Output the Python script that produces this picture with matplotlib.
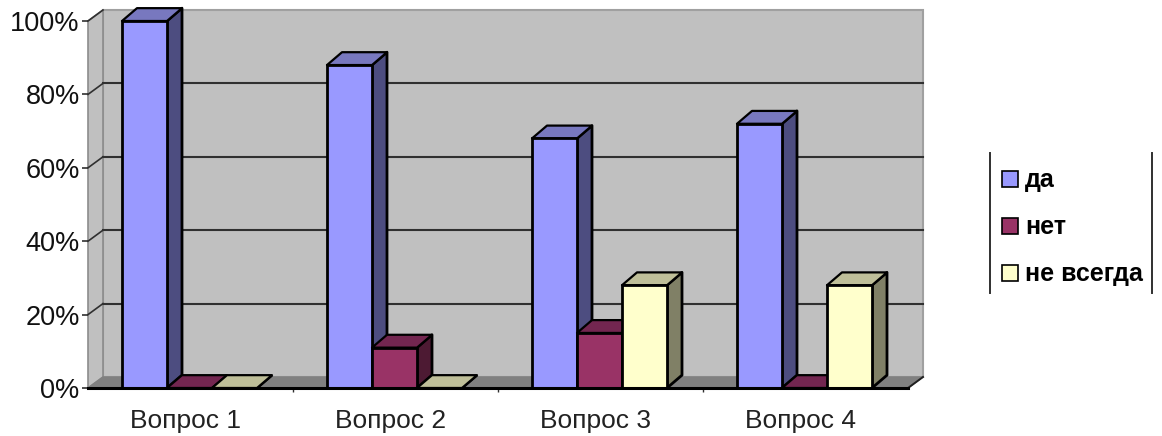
import matplotlib
matplotlib.use("Agg")
import matplotlib.pyplot as plt
from matplotlib.patches import Polygon, Rectangle

plt.rcParams['font.family'] = ['Liberation Sans', 'DejaVu Sans']

categories = ["Вопрос 1", "Вопрос 2", "Вопрос 3", "Вопрос 4"]
series_names = ["да", "нет", "не всегда"]
da = [100, 88, 68, 72]
net = [0, 11, 15, 0]
ne_vsegda = [0, 0, 28, 28]
y_ticks = [0, 20, 40, 60, 80, 100]
y_labels = ["0%", "20%", "40%", "60%", "80%", "100%"]

front_colors = ["#9999FF", "#993366", "#FFFFCC"]
side_colors = ["#4D4D80", "#4D1A33", "#808066"]
top_colors = ["#7878BF", "#732650", "#BFBF99"]

W, H = 1162, 436
fig = plt.figure(figsize=(W / 100, H / 100), dpi=100, facecolor="white")
# front plane of the chart box: 88..908 px across, 21..388 px down
ax = fig.add_axes([88 / W, 1 - 388 / H, 820 / W, 367 / H], facecolor="none")
ax.set_xlim(0, 4)
ax.set_ylim(0, 100)

wall_dx, wall_dy = 15 / 205, 3.0
bar_dx, bar_dy = 15 / 205, 3.5
bar_w = 45 / 205
first_bar = 34 / 205

# walls and floor
ax.add_patch(Polygon([(wall_dx, wall_dy), (4 + wall_dx, wall_dy), (4 + wall_dx, 100 + wall_dy), (wall_dx, 100 + wall_dy)],
                     fc="#C0C0C0", ec="#A0A0A0", lw=1.5, clip_on=False, zorder=1))
ax.add_patch(Polygon([(0, 0), (wall_dx, wall_dy), (wall_dx, 100 + wall_dy), (0, 100)],
                     fc="#C0C0C0", ec="#8C8C8C", lw=1.2, clip_on=False, zorder=1))
ax.add_patch(Polygon([(0, 0), (4, 0), (4 + wall_dx, wall_dy), (wall_dx, wall_dy)],
                     fc="#808080", ec="#808080", lw=1, clip_on=False, zorder=1.1))
ax.plot([4, 4 + wall_dx], [0, wall_dy], color="#202020", lw=1.4, zorder=1.2, clip_on=False)

for t in y_ticks[1:-1]:
    ax.plot([wall_dx, 4 + wall_dx], [t + wall_dy, t + wall_dy], color="#303030", lw=1.5, zorder=1.2, clip_on=False)
for t in y_ticks[1:]:
    ax.plot([0, wall_dx], [t, t + wall_dy], color="#303030", lw=1.2, zorder=1.2, clip_on=False)

# 3d bars, series by series inside every group
all_series = [da, net, ne_vsegda]
for i in range(len(categories)):
    for s, values in enumerate(all_series):
        x0 = i + first_bar + s * bar_w
        x1 = x0 + bar_w
        v = values[i]
        ax.add_patch(Polygon([(x1, 0), (x1 + bar_dx, bar_dy), (x1 + bar_dx, v + bar_dy), (x1, v)],
                             fc=side_colors[s], ec="black", lw=2, clip_on=False, zorder=3, joinstyle="round"))
        ax.add_patch(Polygon([(x0, v), (x1, v), (x1 + bar_dx, v + bar_dy), (x0 + bar_dx, v + bar_dy)],
                             fc=top_colors[s], ec="black", lw=1.6, clip_on=False, zorder=3, joinstyle="round"))
        ax.bar(x0, v, width=bar_w, align="edge", color=front_colors[s], edgecolor="black", linewidth=2,
               clip_on=False, zorder=3)

for name in ["top", "left", "right"]:
    ax.spines[name].set_visible(False)
ax.spines["bottom"].set_linewidth(2.2)
ax.spines["bottom"].set_zorder(4)

ax.set_yticks(y_ticks)
ax.set_yticklabels(y_labels, fontsize=19.5, va="center_baseline")
ax.tick_params(axis="y", length=4, width=1.2, pad=2, color="#303030", labelcolor="#111111")
ax.set_xticks([1, 2, 3])
ax.set_xticklabels([])
ax.tick_params(axis="x", which="major", length=3, width=1, color="#303030")
ax.set_xticks([i + 0.475 for i in range(len(categories))], minor=True)
ax.set_xticklabels(categories, minor=True, fontsize=19, color="#222222")
ax.tick_params(axis="x", which="minor", length=0, pad=15)

# legend box is only closed by the two side lines
lg = fig.add_axes([0, 0, 1, 1], facecolor="none")
lg.set_xlim(0, W)
lg.set_ylim(H, 0)
lg.axis("off")
lg.plot([990, 990], [153, 293], color="#303030", lw=1.4)
lg.plot([1152, 1152], [153, 293], color="#303030", lw=1.4)
for s, name in enumerate(series_names):
    yc = 179 + s * 47
    lg.add_patch(Rectangle((1002, yc - 8), 16, 16, fc=front_colors[s], ec="black", lw=1.2))
    lg.text(1025, yc + 1, name, fontsize=18, va="center", ha="left", color="black", fontweight="bold")

fig.savefig("out.png", dpi=100)
